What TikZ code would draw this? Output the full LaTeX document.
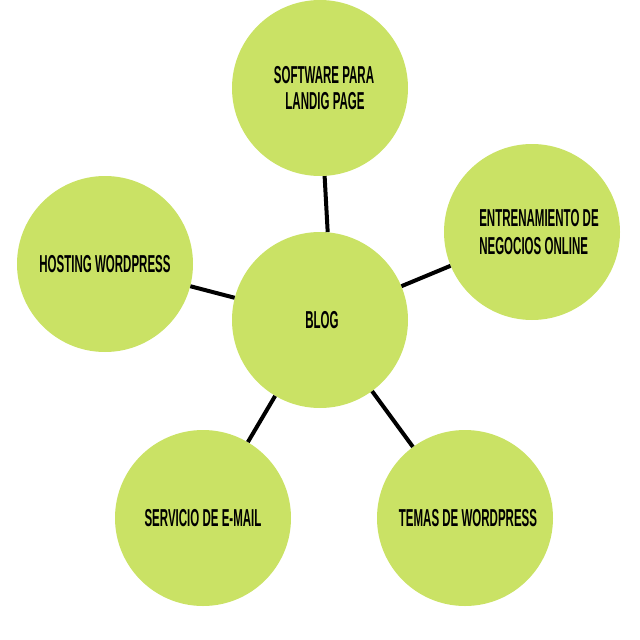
\documentclass[tikz,border=0pt]{standalone}
\usepackage{fontspec}
\setmainfont{Liberation Sans}[FakeStretch=0.47]
\definecolor{leaf}{RGB}{202,226,101}
\begin{document}
\begin{tikzpicture}[x=1pt,y=-1pt,
  bubble/.style={circle,fill=leaf,draw=none,minimum size=176pt,inner sep=0pt,
    font=\bfseries\fontsize{24.5}{28.5}\selectfont,text=black},
  link/.style={line width=4pt,black}]
\useasboundingbox (0,0) rectangle (640,640);
\node[bubble] (blog) at (320,320) {\hspace*{4pt}BLOG};
\node[bubble,align=center] (top) at (320,88) {\raisebox{-3pt}{\hspace*{8pt}SOFTWARE PARA}\\\hspace*{10pt}LANDIG PAGE};
\node[bubble,align=left] (right) at (532,232) {\hspace*{14pt}ENTRENAMIENTO DE\\\hspace*{14pt}NEGOCIOS ONLINE};
\node[bubble] (left) at (105,264) {HOSTING WORDPRESS};
\node[bubble] (bl) at (203,518) {SERVICIO DE E-MAIL};
\node[bubble] (br) at (465,518) {\hspace*{6pt}TEMAS DE WORDPRESS};
\draw[link] (blog.85) -- (top.-87);
\draw[link] (blog) -- (right);
\draw[link] (blog) -- (left);
\draw[link] (blog) -- (bl);
\draw[link] (blog) -- (br);
\end{tikzpicture}
\end{document}
